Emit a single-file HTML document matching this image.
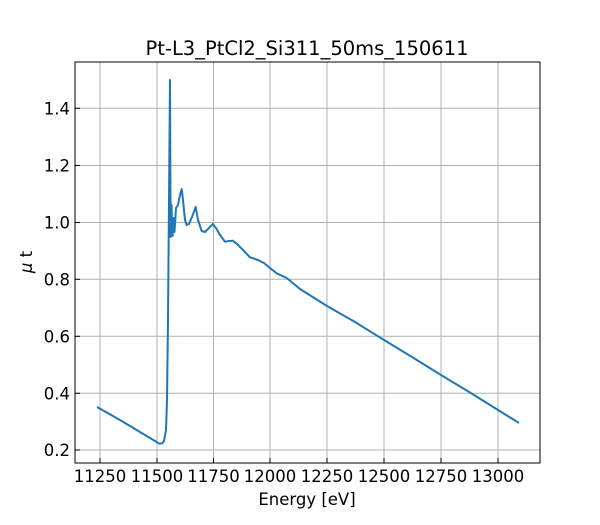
<!DOCTYPE html>
<html><head><style>body{margin:0;background:#fff}</style></head><body>
<svg width="600" height="520" xmlns="http://www.w3.org/2000/svg" font-family="DejaVu Sans, sans-serif">
<rect width="600" height="520" fill="#fff"/>
<g stroke="#b0b0b0" stroke-width="1">
<line x1="100" y1="62" x2="100" y2="463"/><line x1="157" y1="62" x2="157" y2="463"/><line x1="213.5" y1="62" x2="213.5" y2="463"/><line x1="270" y1="62" x2="270" y2="463"/><line x1="327" y1="62" x2="327" y2="463"/><line x1="384" y1="62" x2="384" y2="463"/><line x1="441" y1="62" x2="441" y2="463"/><line x1="498" y1="62" x2="498" y2="463"/>
<line x1="75" y1="108.3" x2="540" y2="108.3"/><line x1="75" y1="165.5" x2="540" y2="165.5"/><line x1="75" y1="222.5" x2="540" y2="222.5"/><line x1="75" y1="279.3" x2="540" y2="279.3"/><line x1="75" y1="336.3" x2="540" y2="336.3"/><line x1="75" y1="393.3" x2="540" y2="393.3"/><line x1="75" y1="450" x2="540" y2="450"/>
</g>
<polyline fill="none" stroke="#1f77b4" stroke-width="2" stroke-linejoin="round" points="97,407 120,420 145,435 155,441 159,443.5 162,443.5 164,441 166,430 167,400 168,320 169,200 170,80 170.6,237 171.5,205 172.5,236 173.5,218 174.5,232 176,208 178,205 180,195 181.7,189 183,200 185,220 186.7,225 189,224 192,217 195.7,207 198,220 201.7,231 205,232 209,228 212.7,224 216,228 220,235 225,241.7 229,241 232.7,240.7 237,244 243,250 250,257.3 258,260 264,263 270,268 276.7,273.3 286.7,278 300,289 327,306 355,322 384,340 412,357 441,375 470,392.5 498,410 519,423"/>
<rect x="75" y="62" width="465" height="401" fill="none" stroke="#000" stroke-width="1"/>
<g stroke="#000" stroke-width="1">
<line x1="100" y1="463" x2="100" y2="458"/><line x1="157" y1="463" x2="157" y2="458"/><line x1="213.5" y1="463" x2="213.5" y2="458"/><line x1="270" y1="463" x2="270" y2="458"/><line x1="327" y1="463" x2="327" y2="458"/><line x1="384" y1="463" x2="384" y2="458"/><line x1="441" y1="463" x2="441" y2="458"/><line x1="498" y1="463" x2="498" y2="458"/>
<line x1="75" y1="108.3" x2="80" y2="108.3"/><line x1="75" y1="165.5" x2="80" y2="165.5"/><line x1="75" y1="222.5" x2="80" y2="222.5"/><line x1="75" y1="279.3" x2="80" y2="279.3"/><line x1="75" y1="336.3" x2="80" y2="336.3"/><line x1="75" y1="393.3" x2="80" y2="393.3"/><line x1="75" y1="450" x2="80" y2="450"/>
</g>
<g font-size="16.5" text-anchor="middle" fill="#000">
<text x="100" y="482">11250</text><text x="157" y="482">11500</text><text x="213.5" y="482">11750</text><text x="270" y="482">12000</text><text x="327" y="482">12250</text><text x="384" y="482">12500</text><text x="441" y="482">12750</text><text x="498" y="482">13000</text>
</g>
<g font-size="16.5" text-anchor="end" fill="#000">
<text x="70" y="114.3">1.4</text><text x="70" y="171.5">1.2</text><text x="70" y="228.5">1.0</text><text x="70" y="285.3">0.8</text><text x="70" y="342.3">0.6</text><text x="70" y="399.3">0.4</text><text x="70" y="456">0.2</text>
</g>
<text x="307" y="505" font-size="16.5" text-anchor="middle">Energy [eV]</text>
<text x="32" y="262" font-size="16.5" text-anchor="middle" transform="rotate(-90 32 262)"><tspan font-style="italic">μ</tspan> t</text>
<text x="307" y="55" font-size="19.5" text-anchor="middle">Pt-L3_PtCl2_Si311_50ms_150611</text>
</svg>
</body></html>
